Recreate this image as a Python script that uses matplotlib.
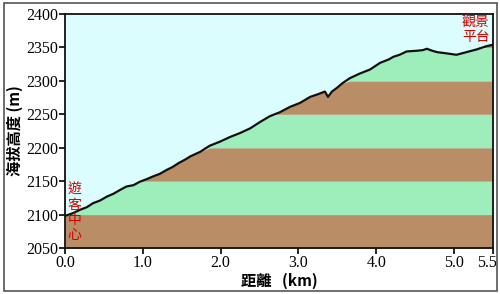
"""
Elevation profile: 遊客中心 -> 觀景平台
"""

import matplotlib
matplotlib.use("Agg")
import matplotlib.pyplot as plt
import matplotlib.transforms as mtransforms
from matplotlib.patches import Rectangle
import numpy as np

# distance (km) and elevation (m)
dist_km = [0.00, 0.10, 0.19, 0.28, 0.36, 0.45, 0.54, 0.62, 0.71, 0.79, 0.88, 0.96,
           1.05, 1.13, 1.22, 1.31, 1.38, 1.46, 1.54, 1.61, 1.74, 1.86, 1.99, 2.12,
           2.25, 2.38, 2.50, 2.63, 2.76, 2.89, 3.02, 3.15, 3.25, 3.34, 3.38, 3.43,
           3.50, 3.56, 3.66, 3.79, 3.92, 4.05, 4.16, 4.22, 4.30, 4.39, 4.52, 4.60,
           4.65, 4.72, 4.78, 4.91, 5.03, 5.16, 5.29, 5.42, 5.50]
elev_m = [2098, 2102, 2107, 2111, 2117, 2121, 2127, 2131, 2137, 2142, 2144, 2149,
          2153, 2157, 2161, 2167, 2171, 2177, 2182, 2187, 2194, 2203, 2209, 2216,
          2222, 2229, 2238, 2247, 2253, 2261, 2267, 2276, 2280, 2284, 2276, 2284,
          2290, 2296, 2304, 2311, 2317, 2327, 2332, 2336, 2339, 2344, 2345, 2346,
          2348, 2345, 2343, 2341, 2339, 2343, 2347, 2352, 2354]

band_edges = [2050, 2100, 2150, 2200, 2250, 2300, 2350, 2400]
band_colors = ["#b98e66", "#9eeebb"]

x_ticks = [0.0, 1.0, 2.0, 3.0, 4.0, 5.0, 5.5]
y_ticks = [2050, 2100, 2150, 2200, 2250, 2300, 2350, 2400]

cjk = ["Noto Sans CJK TC", "DejaVu Sans"]

fig = plt.figure(figsize=(5.0, 2.94), dpi=100)
fig.patch.set_facecolor("white")
ax = fig.add_axes([65 / 500, 1 - 248 / 294, 428 / 500, 234 / 294])
ax.set_facecolor("#dcfdfd")

x = np.array(dist_km)
y = np.array(elev_m)

# coloured elevation bands below the profile
for i in range(len(band_edges) - 1):
    lo, hi = band_edges[i], band_edges[i + 1]
    top = np.clip(y, lo, hi)
    ax.fill_between(x, lo, top, where=y > lo, interpolate=True,
                    color=band_colors[i % 2], linewidth=0)

ax.plot(x, y, color="#111111", linewidth=1.6)

ax.set_xlim(0, 5.5)
ax.set_ylim(2050, 2400)
ax.set_xticks(x_ticks)
ax.set_xticklabels([f"{v:.1f}" for v in x_ticks])
ax.set_yticks(y_ticks)
ax.tick_params(direction="out", length=4, width=1.2, colors="black",
               labelsize=11.5, pad=1)
for lab in ax.get_xticklabels() + ax.get_yticklabels():
    lab.set_family("Liberation Serif")
# last tick label sits a bit left so it stays inside the frame
last = ax.get_xticklabels()[-1]
last.set_transform(last.get_transform() +
                   mtransforms.ScaledTranslation(-6 / 100, 0, fig.dpi_scale_trans))
for sp in ax.spines.values():
    sp.set_linewidth(1.3)
    sp.set_color("#111111")

ax.set_xlabel("距離   (km)", family=cjk, fontsize=11, fontweight="bold", labelpad=1)
ax.set_ylabel("海拔高度 (m)", family=cjk, fontsize=11, fontweight="bold", labelpad=2)

# start / end labels
ax.text(0.12, 2148, "遊\n客\n中\n心", family=cjk, fontsize=10, color="#d40000",
        ha="center", va="top", linespacing=1.1)
ax.text(5.28, 2398, "觀景\n平台", family=cjk, fontsize=10, color="#d40000",
        ha="center", va="top", linespacing=1.05)

# outer frame of the picture
fig.patches.append(Rectangle((4 / 500, 3 / 294), 493 / 500, 288 / 294,
                             transform=fig.transFigure, fill=False,
                             edgecolor="#555555", linewidth=1.2))

plt.savefig("out.png", dpi=100)
plt.close()
